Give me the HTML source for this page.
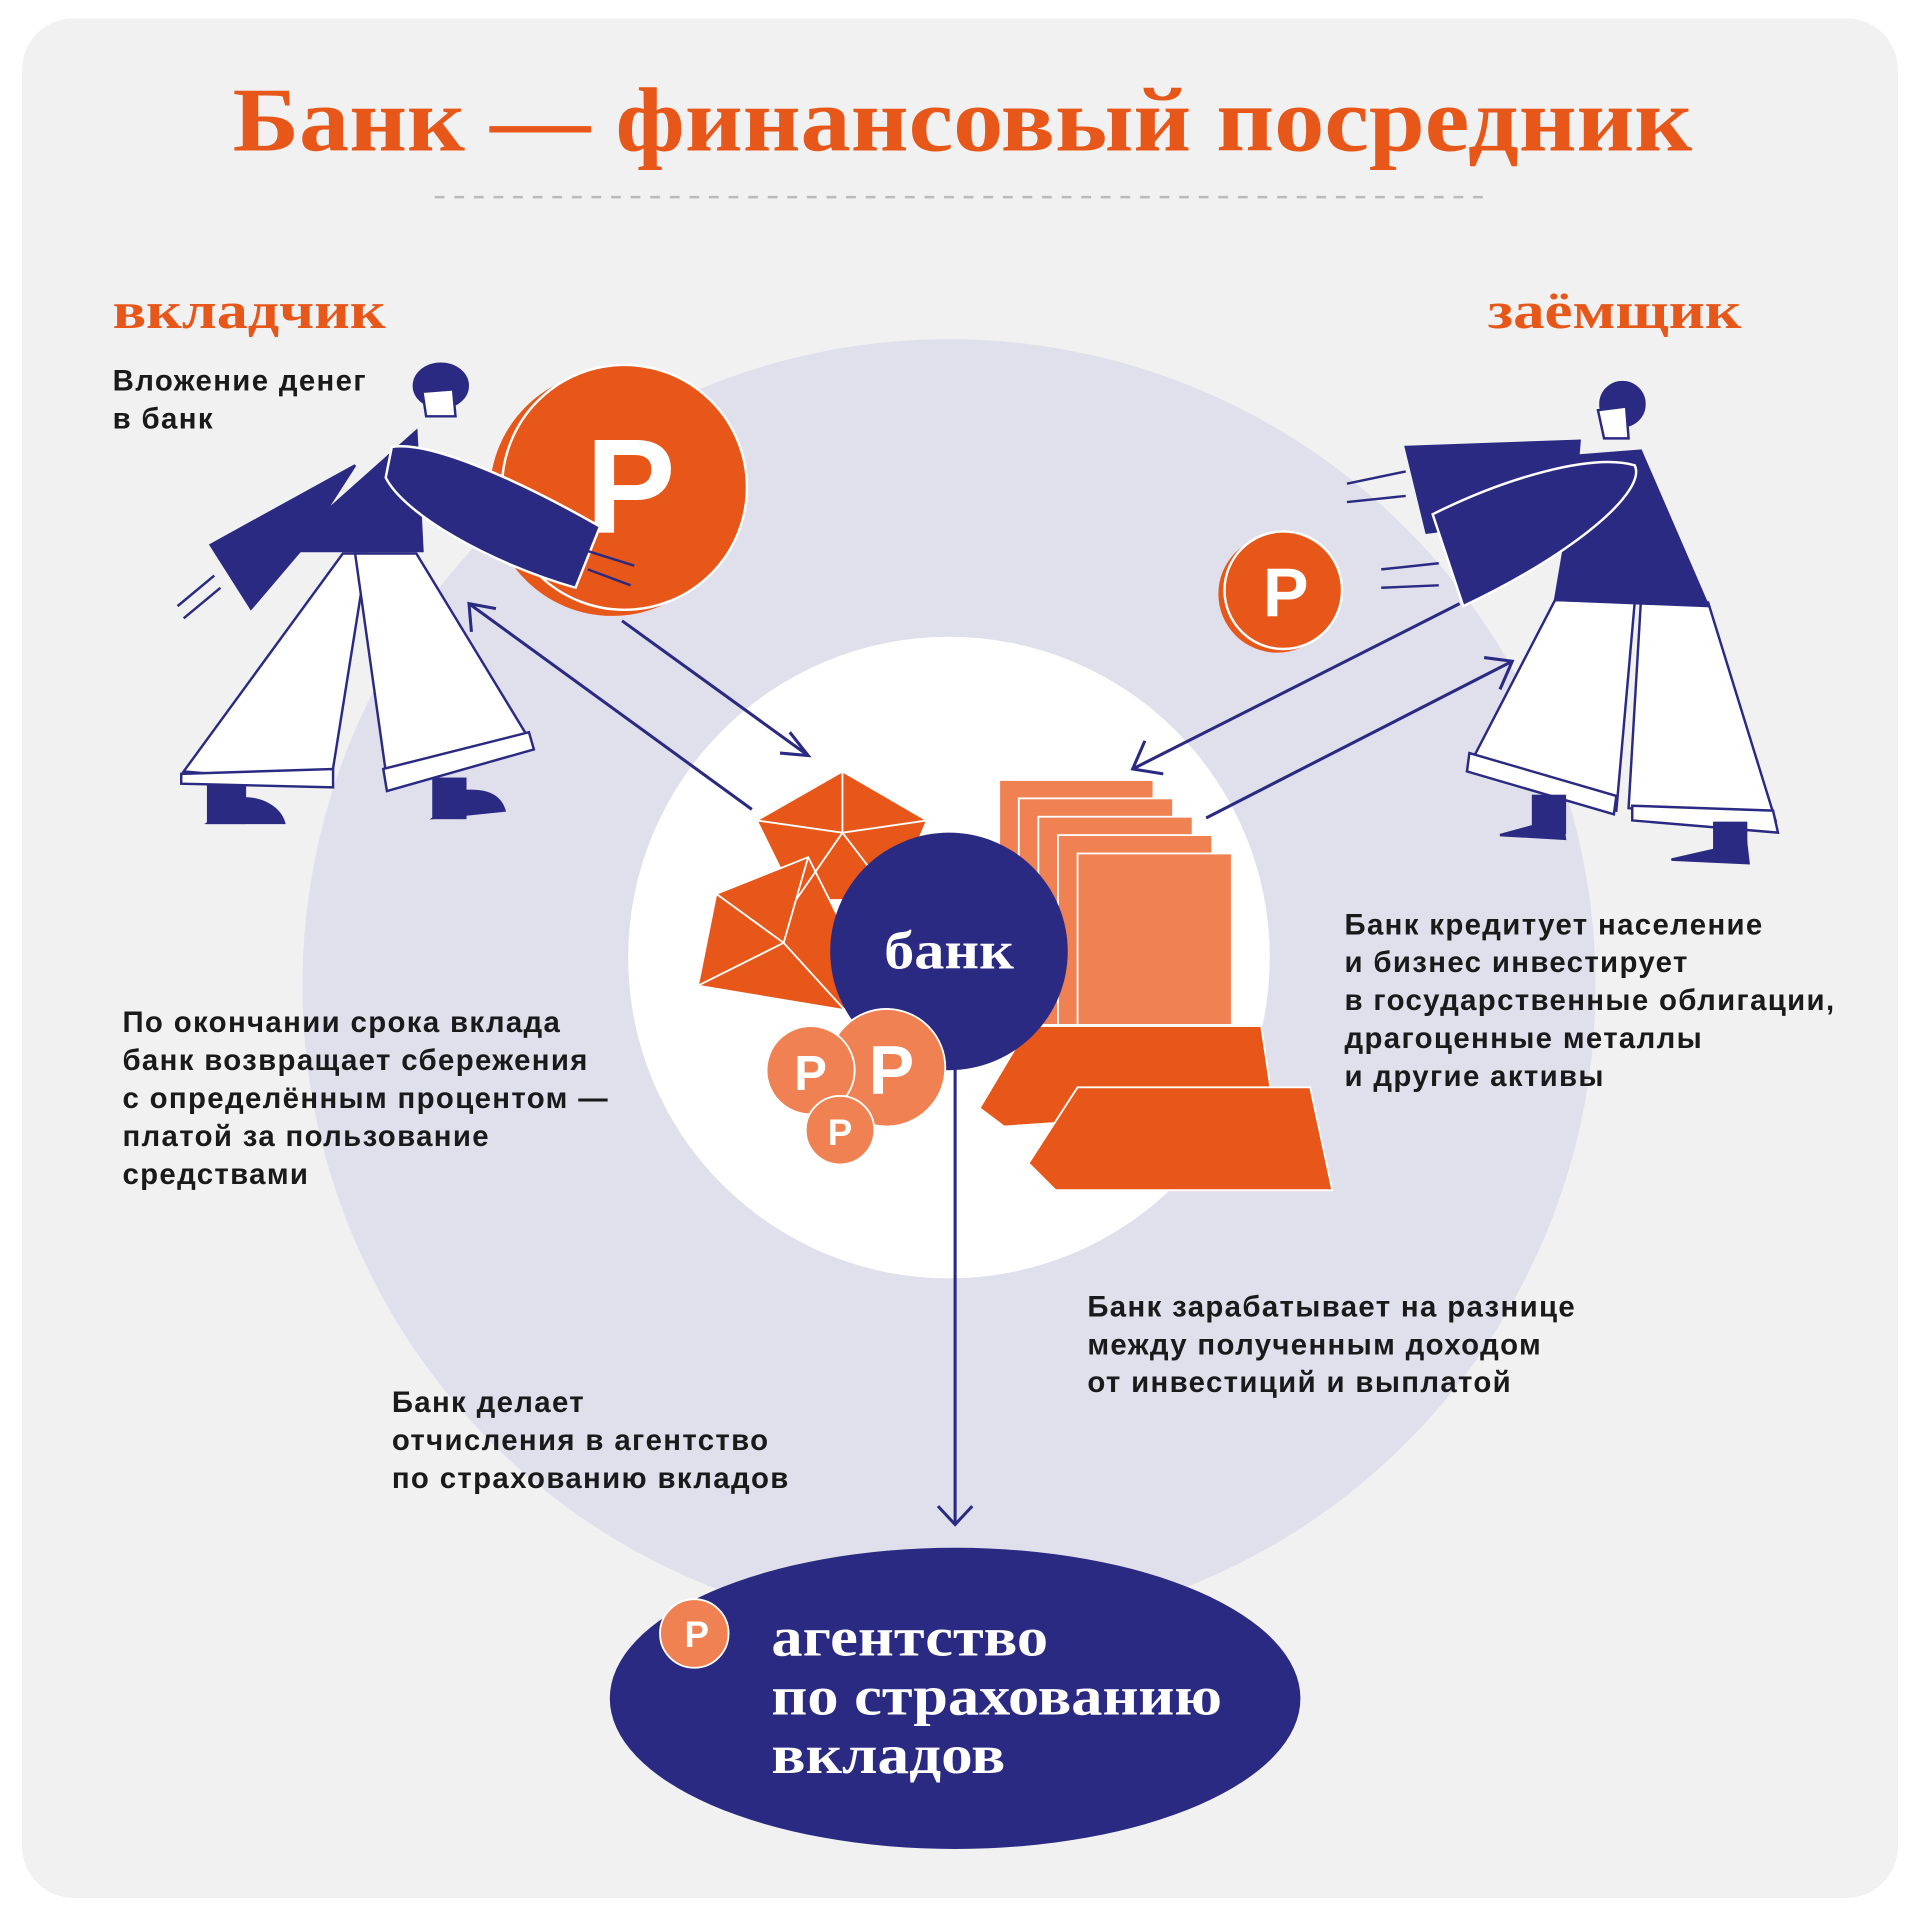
<!DOCTYPE html>
<html><head><meta charset="utf-8"><style>
html,body{margin:0;padding:0;background:#fff;}
svg{display:block}
.serif{font-family:"Liberation Serif","Noto Serif CJK SC",serif;font-weight:bold}
.sans{font-family:"Liberation Sans","DejaVu Sans",sans-serif;font-weight:bold}
</style></head><body>
<svg width="1920" height="1920" viewBox="0 0 1568 1568" xmlns="http://www.w3.org/2000/svg">
<rect x="18" y="15" width="1532" height="1535" rx="42" fill="#f1f1f1"/>
<circle cx="775" cy="805" r="528" fill="#e0dfec"/>
<circle cx="775" cy="782" r="262" fill="#fff"/>
<text x="190" y="123" textLength="1192" lengthAdjust="spacingAndGlyphs" class="serif" font-size="74" fill="#e8571a">Банк — финансовый посредник</text>
<line x1="355" y1="161" x2="1215" y2="161" stroke="#bbb" stroke-width="2" stroke-dasharray="8 8"/>
<text x="92" y="268" textLength="223" lengthAdjust="spacingAndGlyphs" class="serif" font-size="42" fill="#e8571a">вкладчик</text>
<text x="1215" y="268" textLength="207" lengthAdjust="spacingAndGlyphs" class="serif" font-size="42" fill="#e8571a">заёмщик</text>
<g class="sans" font-size="24" fill="#1a1a1a" letter-spacing="1.1">
<text x="92" y="319">Вложение денег</text><text x="92" y="350">в банк</text>
<text x="100" y="843">По окончании срока вклада</text>
<text x="100" y="874">банк возвращает сбережения</text>
<text x="100" y="905">с определённым процентом —</text>
<text x="100" y="936">платой за пользование</text>
<text x="100" y="967">средствами</text>
<text x="1098" y="763">Банк кредитует население</text>
<text x="1098" y="794">и бизнес инвестирует</text>
<text x="1098" y="825">в государственные облигации,</text>
<text x="1098" y="856">драгоценные металлы</text>
<text x="1098" y="887">и другие активы</text>
<text x="888" y="1075">Банк зарабатывает на разнице</text>
<text x="888" y="1106">между полученным доходом</text>
<text x="888" y="1137">от инвестиций и выплатой</text>
<text x="320" y="1153">Банк делает</text>
<text x="320" y="1184">отчисления в агентство</text>
<text x="320" y="1215">по страхованию вкладов</text>
</g>
<!-- big coin -->
<circle cx="500" cy="403" r="100" fill="#e8571a"/>
<circle cx="510" cy="398" r="100" fill="#e8571a" stroke="#fff" stroke-width="2"/>
<text x="515" y="435" text-anchor="middle" class="sans" font-size="110" fill="#fff">P</text>
<!-- right coin -->
<circle cx="1043" cy="485" r="48" fill="#e8571a"/>
<circle cx="1048" cy="482" r="48" fill="#e8571a" stroke="#fff" stroke-width="2"/>
<text x="1050" y="503" text-anchor="middle" class="sans" font-size="56" fill="#fff">P</text>
<!-- left person -->
<g stroke="#2b2a83" stroke-width="2">
<polygon points="280,452 150,630 270,640 300,452" fill="#fff"/>
<polygon points="290,452 340,452 430,600 315,630" fill="#fff"/>
<polygon points="148,632 272,628 272,643 148,640" fill="#fff"/>
<polygon points="313,628 432,598 436,612 316,646" fill="#fff"/>
<polygon points="230,450 340,352 345,450" fill="#2b2a83"/>
<polygon points="172,445 290,380 245,450 205,497" fill="#2b2a83"/>
<path d="M320 365 C350 360 420 390 490 430 L470 480 C400 460 330 420 315 390 Z" fill="#2b2a83" stroke="#fff"/>
<path d="M175 470 L145 495 M180 480 L150 505 M480 450 L518 462 M480 465 L515 478" stroke="#2b2a83" fill="none"/>
<rect x="170" y="642" width="30" height="30" fill="#2b2a83"/>
<path d="M170 672 L232 672 C228 658 212 652 200 652Z" fill="#2b2a83"/>
<rect x="354" y="636" width="26" height="32" fill="#2b2a83"/>
<path d="M354 668 L412 662 C408 648 395 645 380 646Z" fill="#2b2a83"/>
<ellipse cx="360" cy="315" rx="22" ry="18" fill="#2b2a83"/>
<path d="M345 320 L370 318 L372 340 L348 340Z" fill="#fff"/>
</g>
<!-- right person -->
<g stroke="#2b2a83" stroke-width="2">
<polygon points="1270,490 1200,625 1320,662 1335,492" fill="#fff"/>
<polygon points="1340,492 1395,492 1450,670 1330,660" fill="#fff"/>
<polygon points="1200,615 1320,650 1318,665 1198,630" fill="#fff"/>
<polygon points="1333,658 1448,662 1452,680 1333,670" fill="#fff"/>
<polygon points="1290,372 1340,368 1395,495 1270,490" fill="#2b2a83"/>
<polygon points="1148,365 1290,360 1285,420 1165,435" fill="#2b2a83"/>
<path d="M1170 420 C1230 390 1300 370 1335 380 C1345 400 1290 450 1195 495 Z" fill="#2b2a83" stroke="#fff"/>
<path d="M1100 395 L1148 385 M1100 410 L1148 405 M1128 465 L1175 460 M1128 480 L1175 478" fill="none"/>
<rect x="1252" y="650" width="26" height="30" fill="#2b2a83"/>
<path d="M1225 682 L1278 685 L1276 668Z" fill="#2b2a83"/>
<rect x="1400" y="672" width="26" height="30" fill="#2b2a83"/>
<path d="M1365 702 L1428 705 L1426 688Z" fill="#2b2a83"/>
<ellipse cx="1325" cy="330" rx="18" ry="18" fill="#2b2a83"/>
<path d="M1305 335 L1328 332 L1330 358 L1310 358Z" fill="#fff"/>
</g>
<!-- arrows -->
<g stroke="#2b2a83" stroke-width="2.5" fill="none">
<line x1="508" y1="507" x2="660" y2="617"/><path d="M645 598 L660 617 L637 615"/>
<line x1="614" y1="661" x2="383" y2="493"/><path d="M385 516 L383 493 L405 497"/>
<line x1="1192" y1="493" x2="925" y2="628"/><path d="M935 605 L925 628 L950 632"/>
<line x1="985" y1="668" x2="1235" y2="540"/><path d="M1212 537 L1235 540 L1225 563"/>
<line x1="780" y1="860" x2="780" y2="1245"/><path d="M766 1230 L780 1245 L794 1230"/>
</g>
<!-- gems -->
<g stroke="#fff" stroke-width="1.5" fill="#e8571a">
<polygon points="618,670 688,630 757,670 730,735 650,735"/>
<polygon points="585,730 660,700 700,780 690,825 570,805"/>
<path d="M618 670 L688 680 L757 670 M688 630 L688 680 L650 735 M688 680 L730 735 M585 730 L640 770 L660 700 M640 770 L570 805 M640 770 L690 825" fill="none"/>
</g>
<!-- stack of papers / bars -->
<g fill="#ef8152" stroke="#fff" stroke-width="1.5">
<rect x="816" y="637" width="126" height="200"/>
<rect x="832" y="652" width="126" height="185"/>
<rect x="848" y="667" width="126" height="170"/>
<rect x="864" y="682" width="126" height="155"/>
<rect x="880" y="697" width="126" height="140"/>
</g>
<g fill="#e8571a" stroke="#fff" stroke-width="1.5">
<polygon points="800,905 840,838 1030,838 1040,905 820,920"/>
<polygon points="840,950 880,888 1070,888 1088,972 862,972"/>
</g>
<circle cx="775" cy="777" r="97" fill="#2b2a83"/>
<text x="722" y="791" textLength="106" lengthAdjust="spacingAndGlyphs" class="serif" font-size="44" fill="#fff">банк</text>
<g stroke="#fff" stroke-width="1.5" fill="#ef8152">
<circle cx="724" cy="872" r="48"/><text x="728" y="893" text-anchor="middle" class="sans" font-size="56" fill="#fff" stroke="none">P</text>
<circle cx="662" cy="874" r="36"/><text x="662" y="890" text-anchor="middle" class="sans" font-size="40" fill="#fff" stroke="none">P</text>
<circle cx="686" cy="923" r="28"/><text x="686" y="935" text-anchor="middle" class="sans" font-size="30" fill="#fff" stroke="none">P</text>
</g>
<ellipse cx="780" cy="1387" rx="282" ry="123" fill="#2b2a83"/>
<circle cx="567" cy="1334" r="28" fill="#ef8152" stroke="#fff" stroke-width="1.5"/>
<text x="569" y="1345" text-anchor="middle" class="sans" font-size="30" fill="#fff">P</text>
<g class="serif" font-size="45" fill="#fff">
<text x="630" y="1352" textLength="226" lengthAdjust="spacingAndGlyphs">агентство</text>
<text x="630" y="1400" textLength="368" lengthAdjust="spacingAndGlyphs">по страхованию</text>
<text x="630" y="1448" textLength="191" lengthAdjust="spacingAndGlyphs">вкладов</text>
</g>
</svg>
</body></html>
